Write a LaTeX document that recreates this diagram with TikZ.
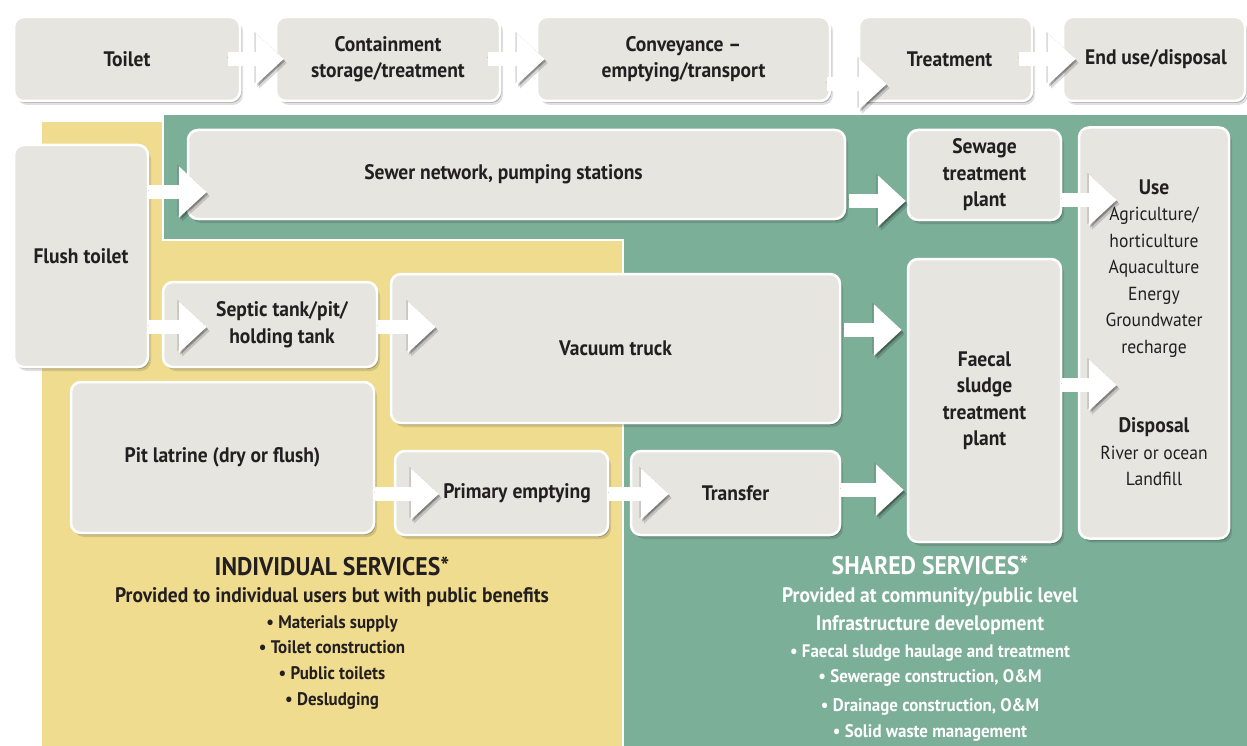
\documentclass[tikz,border=0pt]{standalone}
\usepackage{fontspec}
\setmainfont{PT Sans}[FakeStretch=0.93]
\usetikzlibrary{arrows.meta,shadows}

\definecolor{boxgray}{HTML}{E6E5E0}
\definecolor{textdark}{HTML}{231F20}
\definecolor{indivyellow}{HTML}{EFDC8F}
\definecolor{sharedgreen}{HTML}{7BAF98}

\newcommand{\plainline}{\fontsize{18.9}{26.5}\selectfont\mdseries}

\begin{document}
\begin{tikzpicture}[x=1pt,y=-1pt,
  box/.style={rounded corners=10pt, fill=boxgray, draw=white, line width=2.5pt,
    text=textdark, align=center, inner sep=0pt,
    font=\fontsize{21}{26.5}\selectfont\bfseries,
    drop shadow={shadow xshift=1.5pt,shadow yshift=-2pt,opacity=0.2,fill=black},
    drop shadow={shadow xshift=3pt,shadow yshift=-4pt,opacity=0.12,fill=black}},
  flow/.style={white, line width=14pt, -{Triangle[length=28pt,width=50pt]},
    preaction={draw=black, opacity=0.16, transform canvas={shift={(-1.5pt,1.5pt)}}},
    preaction={draw=black, opacity=0.15, transform canvas={shift={(3pt,-4pt)}}},
    preaction={draw=black, opacity=0.25, transform canvas={shift={(1.5pt,-2pt)}}}},
  header/.style={anchor=base, font=\fontsize{25.5}{30}\selectfont\bfseries},
  subline/.style={anchor=base, font=\fontsize{21}{24}\selectfont\bfseries},
  bulletline/.style={anchor=base, font=\fontsize{18.2}{22}\selectfont\bfseries}]

\useasboundingbox (0,0) rectangle (1247,746);
\fill[white] (0,0) rectangle (1247,746);

% Service areas behind the chain
\fill[indivyellow] (42,122) rectangle (623,746);
\filldraw[sharedgreen, draw=white, line width=2.5pt]
  (163,114) -- (1252,114) -- (1252,752) -- (623,752) -- (623,240) -- (163,240) -- cycle;

% Sanitation service chain (top row)
\node[box, minimum width=226pt, minimum height=84pt] (toilet) at (127,59) {Toilet};
\node[box, minimum width=224pt, minimum height=84pt] (containment) at (388,59) {Containment\\storage/treatment};
\node[box, minimum width=293pt, minimum height=84pt] (conveyance) at (683.5,59) {Conveyance --\\emptying/transport};
\node[box, minimum width=173pt, minimum height=84pt] (treatment) at (945.5,59) {\hspace*{8pt}Treatment};
\node[box, minimum width=182pt, minimum height=84pt] (endUse) at (1154,59) {\hspace*{4pt}End use/disposal};

% Technologies
\node[box, minimum width=134pt, minimum height=222pt] (flushToilet) at (81,256) {Flush toilet};
\node[box, minimum width=657pt, minimum height=89pt] (sewerNetwork) at (516.5,174.5) {Sewer network, pumping stations\hspace*{26pt}};
\node[box, minimum width=214pt, minimum height=85pt] (septicTank) at (270,324.5) {\hspace*{24pt}Septic tank/pit/\\\hspace*{24pt}holding tank};
\node[box, minimum width=449pt, minimum height=149pt] (vacuumTruck) at (615.5,348.5) {Vacuum truck};
\node[box, minimum width=303pt, minimum height=151pt] (pitLatrine) at (222.5,457.5) {Pit latrine (dry or flush)};
\node[box, minimum width=213pt, minimum height=84pt] (primaryEmptying) at (501.5,493) {\hspace*{31pt}Primary emptying};
\node[box, minimum width=209pt, minimum height=84pt] (transfer) at (735.5,493) {Transfer};
\node[box, minimum width=153pt, minimum height=90pt] (sewagePlant) at (984.5,175) {Sewage\\treatment\\plant};
\node[box, minimum width=153pt, minimum height=283pt] (sludgePlant) at (984.5,400.5) {Faecal\\sludge\\treatment\\plant};
\node[box, minimum width=150pt, minimum height=411pt] (useDisposal) at (1154,333)
  {Use\\\plainline Agriculture/\\\plainline horticulture\\\plainline Aquaculture\\\plainline Energy\\\plainline Groundwater\\\plainline recharge\\[53pt]
   Disposal\\\plainline River or ocean\\\plainline Landfill};

% Block arrows of the top row
\draw[flow] ([xshift=-13pt]toilet.east) -- ([xshift=9pt]containment.west);
\draw[flow] ([xshift=-13pt]containment.east) -- ([xshift=9pt]conveyance.west);
\draw[flow] ([xshift=-4pt,yshift=-25pt]conveyance.east) -- ([xshift=29pt,yshift=-25pt]treatment.west);
\draw[flow] ([xshift=-14pt]treatment.east) -- ([xshift=14pt]endUse.west);

% Block arrows between technologies
\draw[flow] ([yshift=64pt]flushToilet.east) -- ([xshift=20pt,yshift=-17.5pt]sewerNetwork.west);
\draw[flow] ([yshift=-71pt]flushToilet.east) -- ([xshift=45pt,yshift=-2.5pt]septicTank.west);
\draw[flow] ([yshift=-2.5pt]septicTank.east) -- ([xshift=46pt,yshift=21.5pt]vacuumTruck.west);
\draw[flow] ([xshift=3pt,yshift=18.5pt]vacuumTruck.east) -- ([xshift=-5pt,yshift=70.5pt]sludgePlant.west);
\draw[flow] ([xshift=3pt,yshift=-26.5pt]sewerNetwork.east) -- ([xshift=-1pt,yshift=-26pt]sewagePlant.west);
\draw[flow] ([yshift=-25pt]sewagePlant.east) -- ([xshift=39pt,yshift=133pt]useDisposal.west);
\draw[flow] ([yshift=15.5pt]sludgePlant.east) -- ([xshift=39pt,yshift=-52pt]useDisposal.west);
\draw[flow] ([yshift=-36.5pt]pitLatrine.east) -- ([xshift=45pt,yshift=-1pt]primaryEmptying.west);
\draw[flow] ([yshift=-1pt]primaryEmptying.east) -- ([xshift=39pt,yshift=-1pt]transfer.west);
\draw[flow] ([yshift=3pt]transfer.east) -- ([xshift=-3pt,yshift=-89.5pt]sludgePlant.west);

% Individual services
\node[header, text=textdark] (indivHead) at (332,575) {INDIVIDUAL SERVICES*};
\node[subline, text=textdark] (indivSub) at (332,602) {Provided to individual users but with public benefits};
\foreach \t [count=\i] in {Materials supply, Toilet construction, Public toilets, Desludging}
  \node[bulletline, text=textdark] (indivItem\i) at (332,602.3+25.7*\i) {\textbullet\ \t};

% Shared services
\node[header, text=white] (sharedHead) at (930,574) {SHARED SERVICES*};
\node[subline, text=white] (sharedSub) at (930,602) {Provided at community/public level};
\node[subline, text=white] (sharedInfra) at (930,630) {Infrastructure development};
\foreach \y/\t [count=\i] in {657/Faecal sludge haulage and treatment, 682/{Sewerage construction, O\&M},
    711/{Drainage construction, O\&M}, 737/Solid waste management}
  \node[bulletline, text=white] (sharedItem\i) at (930,\y) {\textbullet\ \t};

\end{tikzpicture}
\end{document}
